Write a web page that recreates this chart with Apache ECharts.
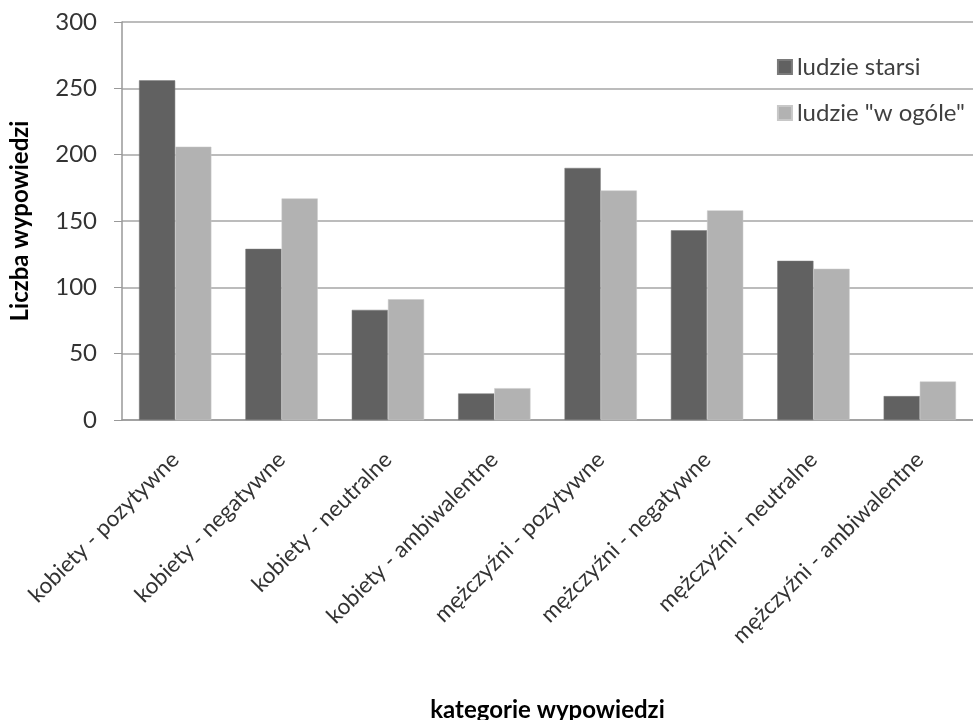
<!DOCTYPE html>
<html>
<head>
<meta charset="utf-8">
<script src="https://cdn.jsdelivr.net/npm/echarts@6/dist/echarts.min.js"></script>
<style>
html,body{margin:0;padding:0;background:#fff;}
#c{width:973px;height:720px;}
</style>
</head>
<body>
<div id="c"></div>
<script>
const categories = ['kobiety - pozytywne','kobiety - negatywne','kobiety - neutralne','kobiety - ambiwalentne','mężczyźni - pozytywne','mężczyźni - negatywne','mężczyźni - neutralne','mężczyźni - ambiwalentne'];
const seriesNames = ['ludzie starsi','ludzie "w ogóle"'];
const starsi = [256, 129, 83, 20, 190, 143, 120, 18];
const ogole = [206, 167, 91, 24, 173, 158, 114, 29];
const yTicks = [0, 50, 100, 150, 200, 250, 300];

const FONT = 'Lato, "Open Sans", sans-serif';
const chart = echarts.init(document.getElementById('c'));
chart.setOption({
  animation: false,
  textStyle: {fontFamily: FONT},
  grid: {left: 122, right: 0, top: 22, bottom: 300, containLabel: false, outerBoundsMode: 'none'},
  legend: {
    right: 3, top: 50, orient: 'vertical', itemGap: 22,
    itemWidth: 14, itemHeight: 14, icon: 'rect',
    textStyle: {fontSize: 24, color: '#404040', fontFamily: FONT},
    data: seriesNames
  },
  xAxis: {
    type: 'category', data: categories,
    name: 'kategorie wypowiedzi', nameLocation: 'middle', nameGap: 278,
    nameTextStyle: {fontSize: 24, fontWeight: 'bold', color: '#000', fontFamily: FONT},
    axisLine: {lineStyle: {color: '#999', width: 1.5}},
    axisTick: {show: false},
    axisLabel: {rotate: 45, interval: 0, margin: 36, fontSize: 22.5, color: '#333', fontFamily: FONT},
  },
  yAxis: {
    type: 'value', min: yTicks[0], max: yTicks[yTicks.length - 1], interval: 50,
    name: 'Liczba wypowiedzi', nameLocation: 'middle', nameGap: 90, nameRotate: 90,
    nameTextStyle: {fontSize: 24, fontWeight: 'bold', color: '#000', fontFamily: FONT},
    axisLine: {show: true, lineStyle: {color: '#999', width: 1.5}},
    axisTick: {show: true, length: 8, lineStyle: {color: '#999'}},
    axisLabel: {fontSize: 24, color: '#333', margin: 25, fontFamily: FONT},
    splitLine: {lineStyle: {color: '#a6a6a6', width: 1.5}}
  },
  series: [
    {name: seriesNames[0], type: 'bar', data: starsi, barGap: '0%', barCategoryGap: '32%',
     itemStyle: {color: '#616161', borderColor: '#7a7a7a', borderWidth: 0.5}},
    {name: seriesNames[1], type: 'bar', data: ogole,
     itemStyle: {color: '#b2b2b2', borderColor: '#c8c8c8', borderWidth: 0.5}}
  ]
});
</script>
</body>
</html>
